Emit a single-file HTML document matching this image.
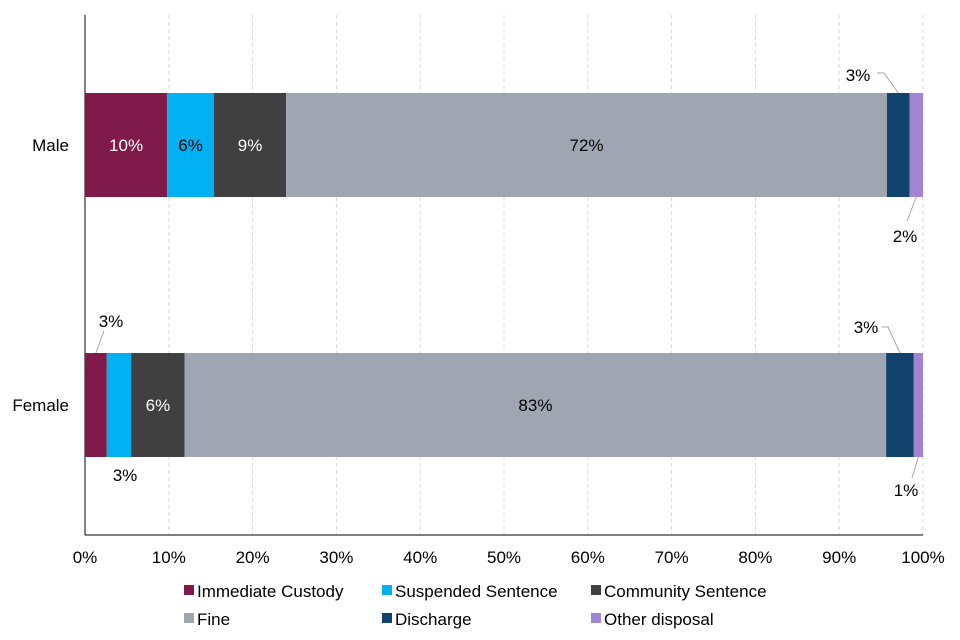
<!DOCTYPE html>
<html><head><meta charset="utf-8"><style>
body{margin:0;background:#fff;font-family:"Liberation Sans",Arial,sans-serif}
svg{display:block}
</style></head><body>
<svg id="chart" width="960" height="640" font-family="Liberation Sans, Arial, sans-serif"></svg>
<script>
const categories = ["Male","Female"];
const seriesNames = ["Immediate Custody","Suspended Sentence","Community Sentence","Fine","Discharge","Other disposal"];
const custody = [9.8, 2.6];
const suspended = [5.6, 2.9];
const community = [8.6, 6.4];
const fine = [71.7, 83.7];
const discharge = [2.7, 3.3];
const other = [1.6, 1.1];
const labelsMale = ["10%","6%","9%","72%","3%","2%"];
const labelsFemale = ["3%","3%","6%","83%","3%","1%"];
const ticks = [0,10,20,30,40,50,60,70,80,90,100];
const colors = ["#7f1a4b","#00b0f0","#404040","#a0a5b2","#12436d","#a285d1"];
const series = [custody,suspended,community,fine,discharge,other];
const labels = [labelsMale,labelsFemale];

const svg = document.getElementById('chart');
const NS = "http://www.w3.org/2000/svg";
const x0 = 85, x1 = 923, yTop = 15, yBot = 535;
const FS = 17;
const xs = v => x0 + (x1 - x0) * v / 100;
const barH = 104;
function el(tag, attrs, parent){const e=document.createElementNS(NS,tag);for(const k in attrs)e.setAttribute(k,attrs[k]);(parent||svg).appendChild(e);return e;}

ticks.forEach(t=>{
  if(t===0) return;
  const g = el('line',{x1:xs(t),x2:xs(t),y1:yTop,y2:yBot,stroke:'#d9d9d9','stroke-dasharray':'4,3'});
  
  
});
ticks.forEach(t=>{
  const tx = el('text',{x:xs(t),y:563,'text-anchor':'middle','font-size':FS,fill:'#000'});
  tx.textContent = t+'%';
  
  
});
const ya = el('line',{x1:x0,x2:x0,y1:yTop,y2:yBot,stroke:'#000','stroke-width':1});


const xa = el('line',{x1:x0,x2:x1,y1:yBot,y2:yBot,stroke:'#000','stroke-width':1});



const centers = [145, 405];
categories.forEach((c,i)=>{
  const cy = centers[i];
  const ct = el('text',{x:69,y:cy+6,'text-anchor':'end','font-size':FS});
  ct.textContent = c;
  
  
  let acc = 0;
  series.forEach((s,j)=>{
    const v = s[i];
    const r = el('rect',{x:xs(acc),y:cy-barH/2,width:xs(acc+v)-xs(acc),height:barH,fill:colors[j]});
    
    
    const mid = xs(acc+v/2);
    acc += v;
    if (v >= 5 && j<4) {
      const t = el('text',{x:mid,y:cy+6,'text-anchor':'middle','font-size':FS,fill:(j===0||j===2)?'#fff':'#000'});
      t.textContent = labels[i][j];
      
      
    }
  });
});
function lead(pts,tx,ty,txt,name){
  const p = el('polyline',{points:pts,fill:'none',stroke:'#a6a6a6','stroke-width':1});
  
  
  const t = el('text',{x:tx,y:ty,'text-anchor':'middle','font-size':FS});
  t.textContent = txt;
  
  
}
const mCum = custody[0]+suspended[0]+community[0]+fine[0];
const fCum = custody[1]+suspended[1]+community[1]+fine[1];
lead(`${877},73 ${884},73 ${xs(mCum+discharge[0]/2)},93`,858,81,labelsMale[4],'male-discharge-label');
lead(`${xs(mCum+discharge[0]+other[0]/2)},197 ${907},221`,905,242,labelsMale[5],'male-other-label');
lead(`${xs(custody[1]/2)+8},331 ${xs(custody[1]/2)},353`,111,327,labelsFemale[0],'female-custody-label');
const ftxt = el('text',{x:125,y:481,'text-anchor':'middle','font-size':FS});
ftxt.textContent = labelsFemale[1];


lead(`${882},327 ${888},327 ${xs(fCum+discharge[1]/2)},353`,866,333,labelsFemale[4],'female-discharge-label');
lead(`${xs(fCum+discharge[1]+other[1]/2)},457 ${912},478`,906,496,labelsFemale[5],'female-other-label');

const legPos = [[190,591],[388,591],[597,591],[190,619],[388,619],[597,619]];
seriesNames.forEach((n,j)=>{
  const [lx,ly] = legPos[j];
  const sq = el('rect',{x:lx-6,y:ly-6,width:10,height:10,fill:colors[j]});
  
  
  const t = el('text',{x:lx+7,y:ly+6,'font-size':FS});
  t.textContent = n;
  
  
});
</script>
</body></html>
